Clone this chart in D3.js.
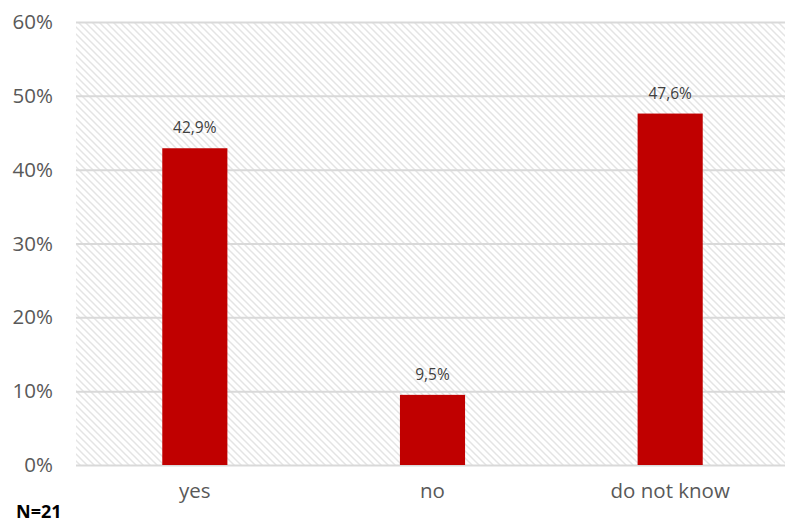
<!DOCTYPE html>
<html><head><meta charset="utf-8">
<script src="https://cdn.jsdelivr.net/npm/d3@7"></script>
<style>body{margin:0;background:#fff}svg{display:block}</style>
</head><body>
<svg id="chart" width="785" height="522"></svg>
<script>
const categories = ["yes", "no", "do not know"];
const values = [42.9, 9.5, 47.6];
const valueLabels = ["42,9%", "9,5%", "47,6%"];
const yTicks = [0, 10, 20, 30, 40, 50, 60];
const note = "N=21";

const FONT = "'Open Sans', sans-serif";
const svg = d3.select("#chart");
const m = {left: 76, right: -4, top: 22, bottom: 57};
const W = 785, H = 522;
const x = d3.scaleBand().domain(categories).range([m.left, W - m.right]).paddingInner(0.726).paddingOuter(0.363);
const y = d3.scaleLinear().domain([0, 60]).range([H - m.bottom, m.top]);

const defs = svg.append("defs");
const pat = defs.append("pattern").attr("id", "hatch").attr("patternUnits", "userSpaceOnUse")
  .attr("width", 7).attr("height", 7);
pat.append("path").attr("d", "M-1,-1 L8,8 M-8,-1 L1,8 M6,-1 L15,8").attr("stroke", "#e4e4e4").attr("stroke-width", 1.5);

svg.append("rect").attr("x", m.left).attr("y", y(60)).attr("width", W - m.right - m.left).attr("height", y(0) - y(60)).attr("fill", "url(#hatch)");

const yAxis = svg.append("g").attr("transform", `translate(${m.left},0)`)
  .call(d3.axisLeft(y).tickValues(yTicks).tickFormat(d => d + "%").tickSize(-(W - m.right - m.left)).tickPadding(23));
yAxis.select(".domain").remove();
yAxis.selectAll(".tick line").attr("stroke", "#d9d9d9").attr("stroke-width", 2);
yAxis.selectAll(".tick text").attr("fill", "#595959").style("font-family", FONT).style("font-size", "20.5px");

svg.selectAll(".bar").data(values).join("rect").attr("class", "bar")
  .attr("x", (d, i) => x(categories[i])).attr("width", x.bandwidth())
  .attr("y", d => y(d)).attr("height", d => y(0) - y(d)).attr("fill", "#c00000");

svg.selectAll(".vlab").data(values).join("text").attr("class", "vlab")
  .attr("x", (d, i) => x(categories[i]) + x.bandwidth() / 2).attr("y", d => y(d) - 15)
  .attr("text-anchor", "middle").attr("fill", "#404040")
  .style("font-family", FONT).style("font-size", "15.5px")
  .text((d, i) => valueLabels[i]);

const xAxis = svg.append("g").attr("transform", `translate(0,${y(0)})`)
  .call(d3.axisBottom(x).tickSize(0).tickPadding(18));
xAxis.select(".domain").remove();
xAxis.selectAll(".tick text").attr("fill", "#595959").style("font-family", FONT).style("font-size", "20.5px");

svg.append("text").attr("x", 16).attr("y", 518).attr("fill", "#000")
  .style("font-family", FONT).style("font-size", "18px").style("font-weight", "bold")
  .text(note);
</script>
</body></html>
